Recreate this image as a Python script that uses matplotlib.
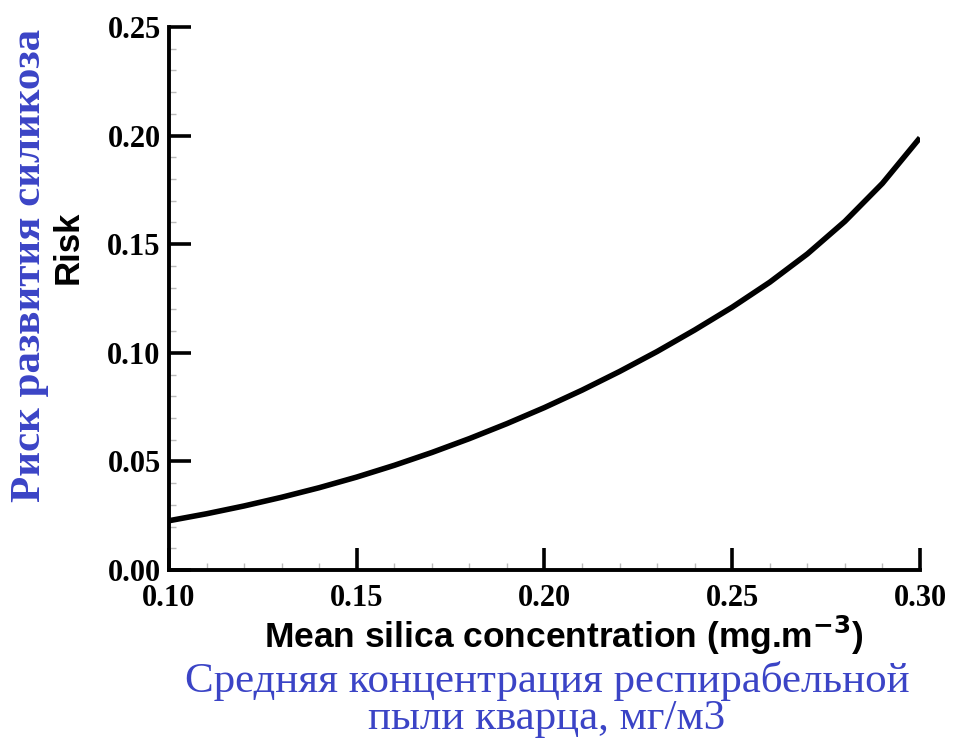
import matplotlib
matplotlib.use("Agg")
import matplotlib.pyplot as plt
from matplotlib.ticker import MultipleLocator, FormatStrFormatter

concentration = [0.10, 0.11, 0.12, 0.13, 0.14, 0.15, 0.16, 0.17, 0.18, 0.19, 0.20,
                 0.21, 0.22, 0.23, 0.24, 0.25, 0.26, 0.27, 0.28, 0.29, 0.30]
risk = [0.0227, 0.0259, 0.0295, 0.0335, 0.0379, 0.0428, 0.0482, 0.0541, 0.0605, 0.0674, 0.0748,
        0.0828, 0.0914, 0.1006, 0.1105, 0.1210, 0.1325, 0.1455, 0.1605, 0.1780, 0.1990]

blue = "#3b44c6"

fig = plt.figure(figsize=(9.58, 7.47), dpi=100)
ax = fig.add_axes([0.1764, 0.2369, 0.7839, 0.727])
ax.plot(concentration, risk, color="black", lw=4.0, solid_capstyle="butt",
        solid_joinstyle="round")
ax.set_xlim(0.10, 0.30)
ax.set_ylim(0.0, 0.25)

for s in ["top", "right"]:
    ax.spines[s].set_visible(False)
for s in ["left", "bottom"]:
    ax.spines[s].set_linewidth(2.8)

ax.xaxis.set_major_locator(MultipleLocator(0.05))
ax.yaxis.set_major_locator(MultipleLocator(0.05))
ax.xaxis.set_minor_locator(MultipleLocator(0.01))
ax.yaxis.set_minor_locator(MultipleLocator(0.01))
ax.xaxis.set_major_formatter(FormatStrFormatter("%.2f"))
ax.yaxis.set_major_formatter(FormatStrFormatter("%.2f"))
ax.tick_params(which="major", direction="in", length=16, width=2.6, pad=6)
ax.tick_params(which="minor", direction="in", length=5, width=1.0, color="#bbbbbb")
ax.tick_params(axis="x", which="major", pad=10)
for lab in ax.get_xticklabels() + ax.get_yticklabels():
    lab.set_fontfamily("Liberation Serif")
    lab.set_fontweight("bold")
    lab.set_fontsize(22)

fig.text(0.589, 0.150, "Mean silica concentration (mg.m$^{\\mathbf{-3}}$)",
         ha="center", va="center", fontsize=25.5, fontweight="bold",
         family="Liberation Sans")
fig.text(0.571, 0.089, "Средняя концентрация респирабельной",
         ha="center", va="center", fontsize=31, color=blue, family="Liberation Serif")
fig.text(0.571, 0.038, "пыли кварца, мг/м3",
         ha="center", va="center", fontsize=31, color=blue, family="Liberation Serif")
fig.text(0.071, 0.669, "Risk", rotation=90, ha="center", va="center",
         fontsize=25, fontweight="bold", family="Liberation Sans")
fig.text(0.031, 0.645, "Риск развития силикоза", rotation=90, ha="center", va="center",
         fontsize=31, fontweight="bold", color=blue, family="Liberation Serif")

fig.savefig("out.png", dpi=100)
